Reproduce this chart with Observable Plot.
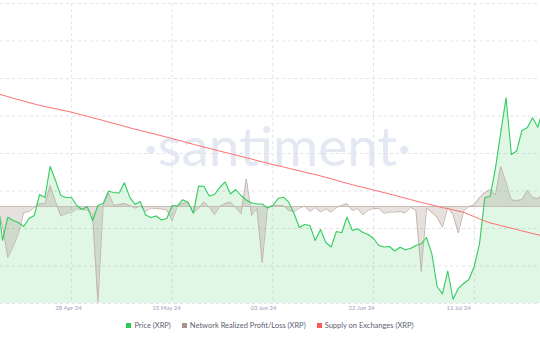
<!DOCTYPE html>
<html>
<head>
<meta charset="utf-8">
<script src="https://cdn.jsdelivr.net/npm/d3@7"></script>
<script src="https://cdn.jsdelivr.net/npm/@observablehq/plot@0.6"></script>
<style>
  html, body { margin: 0; padding: 0; background: #fff; }
  #wrap { width: 540px; height: 340px; position: relative; overflow: hidden; }
  .legend { display: flex; justify-content: center; align-items: center; gap: 11px;
    font-family: Lato, "Open Sans", sans-serif; font-size: 7.5px; color: #5d6270; margin-top: 5px; }
  .legend span.sw { display: inline-block; width: 5px; height: 5px; margin-right: 3px; vertical-align: middle; }
  .legend .it { display: flex; align-items: center; }
</style>
</head>
<body>
<div id="wrap"></div>
<script>
// Daily values, index 0 = first (partly clipped) day
const price = [0.5100,0.4538,0.4829,0.4788,0.4763,0.4713,0.4813,0.4850,0.5113,0.5075,
  0.5463,0.5288,0.5100,0.5075,0.5075,0.4975,0.4925,0.4963,0.4788,0.4975,
  0.5000,0.5154,0.5138,0.5131,0.5259,0.5079,0.4988,0.5025,0.4856,0.4825,
  0.4844,0.4794,0.4813,0.4975,0.4969,0.5046,0.5016,0.4879,0.5219,0.5216,
  0.5094,0.5113,0.5200,0.5269,0.5119,0.5175,0.5100,0.5044,0.5006,0.4994,
  0.4994,0.4944,0.4975,0.5063,0.5079,0.5016,0.4875,0.4700,0.4738,0.4725,
  0.4538,0.4675,0.4513,0.4456,0.4650,0.4634,0.4829,0.4663,0.4684,0.4638,
  0.4613,0.4563,0.4475,0.4456,0.4463,0.4406,0.4454,0.4421,0.4438,0.4475,
  0.4496,0.4575,0.4371,0.3963,0.3871,0.4156,0.3804,0.3938,0.4000,0.4050,
  0.4213,0.4500,0.5075,0.5088,0.5438,0.5888,0.6321,0.5613,0.5656,0.5913,
  0.5946,0.6071,0.5954,0.6188];
// Network realized profit/loss, millions XRP
const nrpl = [0,-47.5,-127.5,-100,-67.5,-15,-12.5,-2.5,7,7,
  52.5,12.5,-24,-17.5,-14,-6,-7.5,-9,-20,-239,
  5,34,2.5,5,7.5,2.5,-4,1,-12.5,-4,
  -5,-6,-9,-35,0,7.5,10,-16,-5,11,
  -1,-20,0,7.5,11,-2.5,-18,69,-22.5,-4,
  -141,-2.5,2.5,2.5,2.5,-10,-12.5,-4,1,-12.5,
  -2.5,-14,-6,-14,-2.5,2.5,7,-10,-5,-21,
  -9,-5,-5,-17,-14,-14,-12.5,-16,-2,-10,
  -162.5,-4,-15,-27,-52,-2,-20,-66,-11,0,
  4,22.5,35,42.5,29,100,60,16,15,17,
  40,22.5,20,30];
// Supply on exchanges, millions XRP
const supply = [3426.8,3425.4,3423.9,3422.3,3420.8,3419.4,3417.9,3416.5,3415.1,3414.0,
  3412.9,3411.8,3410.6,3409.5,3408.3,3406.9,3405.5,3404.2,3402.8,3401.4,
  3400.0,3398.5,3397.1,3395.7,3394.2,3392.7,3391.3,3390.0,3388.7,3387.4,
  3386.1,3384.7,3383.3,3381.9,3380.5,3379.1,3377.6,3376.2,3374.8,3373.4,
  3372.1,3370.7,3369.4,3368.1,3366.8,3365.4,3364.1,3362.7,3361.4,3360.0,
  3358.6,3357.3,3356.0,3354.7,3353.5,3352.2,3350.9,3349.6,3348.4,3347.1,
  3346.0,3344.6,3343.1,3341.7,3340.2,3338.7,3337.2,3335.8,3334.4,3333.2,
  3331.8,3330.5,3329.2,3327.9,3326.5,3325.1,3323.7,3322.3,3320.9,3319.5,
  3318.1,3316.8,3315.5,3314.2,3312.9,3311.8,3310.6,3309.4,3308.2,3306.1,
  3303.8,3301.6,3299.4,3297.6,3296.3,3294.9,3293.6,3292.3,3291.0,3289.6,
  3288.3,3287.0,3285.7,3284.4];

const tickLabels = ["28 Apr 24", "15 May 24", "03 Jun 24", "22 Jun 24", "11 Jul 24"];
const gridTicks = [14, 33, 52, 71, 90];
const labelTicks = [13.45, 31.95, 50.25, 68.75, 87.05];
const seriesNames = ["Price (XRP)", "Network Realized Profit/Loss (XRP)", "Supply on Exchanges (XRP)"];
const seriesColors = ["#2ec954", "#a8968e", "#ff5a5a"];

// Each series has its own axis domain, mapped onto a shared 0..1 frame
const pScale = d3.scaleLinear().domain([0.375, 0.75]).range([0, 1]);
const nScale = d3.scaleLinear().domain([-242.5, 507.5]).range([0, 1]);
const sScale = d3.scaleLinear().domain([3217, 3517]).range([0, 1]);

const rows = price.map((p, i) => ({i, p: pScale(p), n: nScale(nrpl[i]), s: sScale(supply[i])}));
const nZero = nScale(0);

const chart = Plot.plot({
  width: 540, height: 316,
  marginTop: 3, marginBottom: 13, marginLeft: 0, marginRight: 0,
  style: {background: "#fff", overflow: "visible"},
  x: {type: "linear", domain: [0.623, 102.5], axis: null},
  y: {domain: [0, 1], axis: null},
  marks: [
    Plot.text(["·santiment·"], {frameAnchor: "middle", dx: 7, dy: -5, fontSize: 55,
      fontFamily: "Lato, 'Open Sans', sans-serif", fontWeight: 400, fill: "#e4e8f2"}),
    Plot.gridY(d3.range(0, 1.0001, 0.125), {stroke: "#e2e2e8", strokeOpacity: 1, strokeDasharray: "3,3"}),
    Plot.gridX(gridTicks, {stroke: "#e2e2e8", strokeOpacity: 1, strokeDasharray: "3,3"}),
    Plot.areaY(rows, {x: "i", y1: 0, y2: "p", fill: "#2ccb58", fillOpacity: 0.15, clip: true}),
    Plot.areaY(rows, {x: "i", y1: nZero, y2: "n", fill: "#8c756b", fillOpacity: 0.22, clip: true}),
    Plot.ruleY([nZero], {stroke: "#c9bdb8", strokeWidth: 1}),
    Plot.lineY(rows, {x: "i", y: "n", stroke: "#c4b6b0", strokeWidth: 1, clip: true}),
    Plot.lineY(rows, {x: "i", y: "p", stroke: "#34cc60", strokeWidth: 1.1, clip: true}),
    Plot.lineY(rows, {x: "i", y: "s", stroke: "#ff6e6e", strokeWidth: 1, clip: true}),
    Plot.axisX(labelTicks, {tickSize: 0, tickPadding: 2, fontSize: 6, fill: "#9aa3b8", label: null,
      fontFamily: "Lato, 'Open Sans', sans-serif",
      tickFormat: (d) => tickLabels[labelTicks.indexOf(d)]})
  ]
});

const wrap = document.getElementById("wrap");
wrap.appendChild(chart);
const legend = document.createElement("div");
legend.className = "legend";
seriesNames.forEach((name, k) => {
  const it = document.createElement("div");
  it.className = "it";
  const sw = document.createElement("span");
  sw.className = "sw";
  sw.style.background = seriesColors[k];
  it.appendChild(sw);
  it.appendChild(document.createTextNode(name));
  legend.appendChild(it);
});
wrap.appendChild(legend);
</script>
</body>
</html>
